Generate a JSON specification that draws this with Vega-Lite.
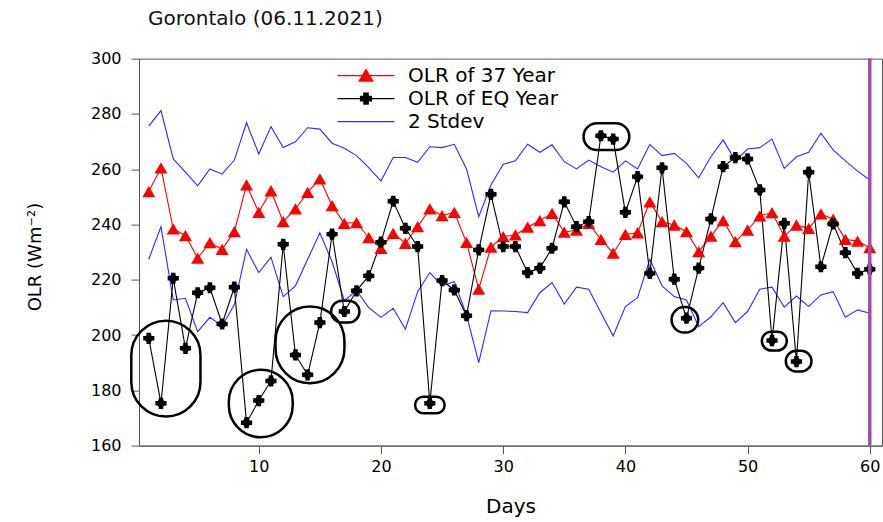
{
  "$schema": "https://vega.github.io/schema/vega-lite/v6.json",
  "width": 743,
  "height": 387,
  "autosize": "none",
  "padding": {"left": 139, "top": 58.6, "right": 1, "bottom": 76.4},
  "background": "white",
  "config": {
    "font": "DejaVu Sans",
    "view": {"stroke": "#555", "strokeWidth": 1},
    "axis": {
      "grid": false,
      "domainColor": "#555",
      "tickColor": "#555",
      "tickSize": 8,
      "labelFont": "DejaVu Sans",
      "labelFontSize": 16,
      "labelColor": "#000",
      "titleFont": "DejaVu Sans",
      "titleFontWeight": "normal",
      "titleColor": "#000"
    }
  },
  "title": {
    "text": "Gorontalo (06.11.2021)",
    "anchor": "start",
    "frame": "group",
    "dx": 9,
    "offset": 22,
    "fontSize": 20,
    "fontWeight": "normal",
    "font": "DejaVu Sans",
    "color": "#111"
  },
  "datasets": {
    "olr": [
      {"day": 1, "avg": 251.9, "eq": 198.8, "up": 275.6, "lo": 227.4},
      {"day": 2, "avg": 260.5, "eq": 175.3, "up": 281.2, "lo": 239.2},
      {"day": 3, "avg": 238.4, "eq": 220.5, "up": 263.7, "lo": 212.7},
      {"day": 4, "avg": 236.0, "eq": 195.2, "up": 258.9, "lo": 213.3},
      {"day": 5, "avg": 227.8, "eq": 215.3, "up": 254.0, "lo": 201.2},
      {"day": 6, "avg": 233.4, "eq": 217.1, "up": 260.1, "lo": 206.4},
      {"day": 7, "avg": 231.0, "eq": 204.0, "up": 258.2, "lo": 203.3},
      {"day": 8, "avg": 237.4, "eq": 217.3, "up": 263.3, "lo": 210.9},
      {"day": 9, "avg": 254.3, "eq": 168.3, "up": 276.8, "lo": 231.0},
      {"day": 10, "avg": 244.4, "eq": 176.3, "up": 265.5, "lo": 222.6},
      {"day": 11, "avg": 252.2, "eq": 183.4, "up": 275.4, "lo": 228.1},
      {"day": 12, "avg": 241.0, "eq": 232.8, "up": 267.8, "lo": 213.9},
      {"day": 13, "avg": 245.6, "eq": 192.8, "up": 269.9, "lo": 217.8},
      {"day": 14, "avg": 251.6, "eq": 185.6, "up": 275.0, "lo": 227.4},
      {"day": 15, "avg": 256.5, "eq": 204.5, "up": 274.5, "lo": 237.0},
      {"day": 16, "avg": 246.8, "eq": 236.5, "up": 269.4, "lo": 226.5},
      {"day": 17, "avg": 240.4, "eq": 208.5, "up": 267.6, "lo": 212.4},
      {"day": 18, "avg": 240.7, "eq": 216.0, "up": 264.9, "lo": 216.1},
      {"day": 19, "avg": 235.2, "eq": 221.4, "up": 260.6, "lo": 209.9},
      {"day": 20, "avg": 231.4, "eq": 233.6, "up": 255.7, "lo": 206.4},
      {"day": 21, "avg": 236.8, "eq": 248.4, "up": 264.2, "lo": 209.7},
      {"day": 22, "avg": 233.2, "eq": 238.6, "up": 264.2, "lo": 202.1},
      {"day": 23, "avg": 239.2, "eq": 232.0, "up": 262.5, "lo": 215.7},
      {"day": 24, "avg": 245.6, "eq": 175.3, "up": 268.1, "lo": 222.6},
      {"day": 25, "avg": 243.2, "eq": 219.7, "up": 267.8, "lo": 217.8},
      {"day": 26, "avg": 244.4, "eq": 216.3, "up": 269.0, "lo": 219.3},
      {"day": 27, "avg": 233.5, "eq": 207.0, "up": 260.1, "lo": 207.3},
      {"day": 28, "avg": 216.6, "eq": 230.8, "up": 242.8, "lo": 190.0},
      {"day": 29, "avg": 231.8, "eq": 250.9, "up": 254.3, "lo": 208.8},
      {"day": 30, "avg": 235.6, "eq": 232.0, "up": 261.8, "lo": 208.7},
      {"day": 31, "avg": 236.2, "eq": 232.0, "up": 263.0, "lo": 208.5},
      {"day": 32, "avg": 239.0, "eq": 222.6, "up": 269.0, "lo": 208.1},
      {"day": 33, "avg": 241.4, "eq": 224.2, "up": 266.1, "lo": 215.3},
      {"day": 34, "avg": 244.0, "eq": 231.4, "up": 268.8, "lo": 219.0},
      {"day": 35, "avg": 237.2, "eq": 248.2, "up": 262.7, "lo": 211.2},
      {"day": 36, "avg": 238.0, "eq": 239.2, "up": 260.1, "lo": 217.3},
      {"day": 37, "avg": 240.4, "eq": 241.0, "up": 263.3, "lo": 216.6},
      {"day": 38, "avg": 234.6, "eq": 272.1, "up": 260.9, "lo": 208.1},
      {"day": 39, "avg": 229.6, "eq": 270.9, "up": 258.9, "lo": 199.7},
      {"day": 40, "avg": 236.4, "eq": 244.4, "up": 263.0, "lo": 210.3},
      {"day": 41, "avg": 237.0, "eq": 257.3, "up": 260.1, "lo": 213.5},
      {"day": 42, "avg": 248.2, "eq": 222.3, "up": 269.0, "lo": 227.4},
      {"day": 43, "avg": 241.0, "eq": 260.5, "up": 264.9, "lo": 217.8},
      {"day": 44, "avg": 239.8, "eq": 220.2, "up": 265.7, "lo": 213.9},
      {"day": 45, "avg": 237.4, "eq": 206.1, "up": 262.1, "lo": 212.7},
      {"day": 46, "avg": 230.2, "eq": 224.2, "up": 256.9, "lo": 203.0},
      {"day": 47, "avg": 235.8, "eq": 242.0, "up": 264.5, "lo": 206.6},
      {"day": 48, "avg": 241.4, "eq": 260.9, "up": 270.6, "lo": 211.7},
      {"day": 49, "avg": 233.8, "eq": 264.2, "up": 263.0, "lo": 204.5},
      {"day": 50, "avg": 238.0, "eq": 263.7, "up": 267.3, "lo": 208.5},
      {"day": 51, "avg": 243.1, "eq": 252.5, "up": 267.8, "lo": 216.6},
      {"day": 52, "avg": 244.3, "eq": 198.0, "up": 270.9, "lo": 217.3},
      {"day": 53, "avg": 235.8, "eq": 240.4, "up": 260.3, "lo": 210.1},
      {"day": 54, "avg": 239.8, "eq": 190.4, "up": 264.5, "lo": 214.1},
      {"day": 55, "avg": 238.6, "eq": 258.9, "up": 266.1, "lo": 210.3},
      {"day": 56, "avg": 243.8, "eq": 224.7, "up": 273.0, "lo": 214.5},
      {"day": 57, "avg": 241.9, "eq": 240.2, "up": 267.0, "lo": 215.7},
      {"day": 58, "avg": 234.6, "eq": 229.8, "up": 263.0, "lo": 206.4},
      {"day": 59, "avg": 234.0, "eq": 222.3, "up": 259.3, "lo": 209.1},
      {"day": 60, "avg": 231.6, "eq": 223.8, "up": 256.1, "lo": 207.9}
    ],
    "ellipses": [
      {"d1": -0.43, "d2": 5.23, "v1": 205.2, "v2": 170.5},
      {"d1": 7.55, "d2": 12.78, "v1": 187.4, "v2": 163.0},
      {"d1": 11.37, "d2": 17.01, "v1": 210.3, "v2": 182.6},
      {"d1": 15.92, "d2": 18.24, "v1": 212.4, "v2": 204.5},
      {"d1": 22.79, "d2": 25.21, "v1": 177.7, "v2": 171.7},
      {"d1": 36.58, "d2": 40.32, "v1": 276.6, "v2": 266.9},
      {"d1": 43.78, "d2": 45.96, "v1": 210.1, "v2": 200.9},
      {"d1": 51.17, "d2": 53.21, "v1": 201.2, "v2": 194.4},
      {"d1": 53.13, "d2": 55.23, "v1": 194.3, "v2": 186.8}
    ],
    "marker": [{"d": 60}]
  },
  "layer": [
    {
      "data": {"name": "olr"},
      "transform": [{"fold": ["up", "lo", "avg", "eq"], "as": ["key", "v"]}],
      "mark": {"type": "line", "strokeWidth": 1.1},
      "encoding": {
        "x": {
          "field": "day", "type": "quantitative",
          "scale": {"domain": [0.2, 61], "nice": false, "zero": false},
          "axis": {"values": [10, 20, 30, 40, 50, 60], "title": "Days", "titleFontSize": 20, "labelPadding": 5, "titlePadding": 22}
        },
        "y": {
          "field": "v", "type": "quantitative",
          "scale": {"domain": [160, 300], "nice": false, "zero": false},
          "axis": {"values": [160, 180, 200, 220, 240, 260, 280, 300], "title": "OLR (Wm⁻²)", "titleFontSize": 18, "labelPadding": 10, "titlePadding": 46, "titleY": 198}
        },
        "color": {
          "field": "key", "type": "nominal",
          "scale": {"domain": ["avg", "eq", "up", "lo"], "range": ["#ff0000", "#000000", "#2a2aff", "#2a2aff"]},
          "legend": {
            "values": ["avg", "eq", "up"],
            "labelExpr": "datum.value == 'avg' ? 'OLR of 37 Year' : datum.value == 'eq' ? 'OLR of EQ Year' : '2 Stdev'",
            "title": null,
            "orient": "none",
            "legendX": 216,
            "legendY": 6,
            "padding": 0,
            "labelFont": "DejaVu Sans",
            "labelFontSize": 20,
            "labelColor": "#000",
            "symbolSize": 400,
            "labelOffset": 31,
            "rowPadding": 2,
            "encode": {
              "symbols": {
                "update": {
                  "shape": {"signal": "datum.value == 'avg' ? 'M-2.85,0L2.85,0M-0.68,0.55L0,-0.62L0.68,0.55Z' : datum.value == 'eq' ? 'M-2.85,0L2.85,0M-0.55,-0.22L-0.22,-0.22L-0.22,-0.55L0.22,-0.55L0.22,-0.22L0.55,-0.22L0.55,0.22L0.22,0.22L0.22,0.55L-0.22,0.55L-0.22,0.22L-0.55,0.22Z' : 'M-2.85,0L2.85,0'"},
                  "fill": {"scale": "color", "field": "value"},
                  "stroke": {"scale": "color", "field": "value"},
                  "strokeWidth": {"value": 1.2},
                  "opacity": {"value": 1}
                }
              }
            }
          }
        }
      }
    },
    {
      "data": {"name": "olr"},
      "mark": {"type": "point", "shape": "triangle-up", "filled": true, "color": "#ff0000", "size": 170, "opacity": 1},
      "encoding": {
        "x": {"field": "day", "type": "quantitative"},
        "y": {"field": "avg", "type": "quantitative"}
      }
    },
    {
      "data": {"name": "olr"},
      "mark": {"type": "point", "shape": "cross", "filled": true, "color": "#000000", "size": 125, "opacity": 1},
      "encoding": {
        "x": {"field": "day", "type": "quantitative"},
        "y": {"field": "eq", "type": "quantitative"}
      }
    },
    {
      "data": {"name": "olr"},
      "mark": {"type": "point", "shape": "circle", "filled": true, "color": "#000000", "size": 60, "opacity": 1},
      "encoding": {
        "x": {"field": "day", "type": "quantitative"},
        "y": {"field": "eq", "type": "quantitative"}
      }
    },
    {
      "data": {"name": "ellipses"},
      "mark": {"type": "rect", "fillOpacity": 0, "stroke": "#000000", "strokeWidth": 2.5, "cornerRadius": 500},
      "encoding": {
        "x": {"field": "d1", "type": "quantitative"},
        "x2": {"field": "d2"},
        "y": {"field": "v1", "type": "quantitative"},
        "y2": {"field": "v2"}
      }
    },
    {
      "data": {"name": "marker"},
      "mark": {"type": "rule", "color": "#a64ca6", "strokeWidth": 3.5},
      "encoding": {
        "x": {"field": "d", "type": "quantitative"}
      }
    }
  ]
}
